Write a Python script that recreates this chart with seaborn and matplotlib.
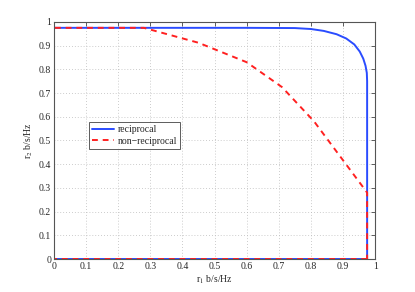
import numpy as np
import pandas as pd
import matplotlib
matplotlib.use("Agg")
import matplotlib.pyplot as plt
import seaborn as sns

# -----------------------------
# DATA
# -----------------------------
recip_r1 = [0.975, 0.0, 0.0, 0.30, 0.60, 0.75, 0.80, 0.84, 0.88, 0.91,
            0.935, 0.952, 0.963, 0.970, 0.974, 0.975, 0.975]
recip_r2 = [0.0, 0.0, 0.975, 0.975, 0.975, 0.974, 0.970, 0.962, 0.948, 0.930,
            0.905, 0.875, 0.845, 0.815, 0.785, 0.75, 0.0]

nonrecip_r1 = [0.975, 0.0, 0.0, 0.28, 0.45, 0.60, 0.71, 0.81, 0.975, 0.975]
nonrecip_r2 = [0.0, 0.0, 0.975, 0.975, 0.912, 0.83, 0.725, 0.58, 0.28, 0.0]

xticks = np.round(np.arange(0, 1.01, 0.1), 1)
yticks = np.round(np.arange(0, 1.01, 0.1), 1)

df_recip = pd.DataFrame({"r1": recip_r1, "r2": recip_r2})
df_non = pd.DataFrame({"r1": nonrecip_r1, "r2": nonrecip_r2})

# -----------------------------
# PLOT
# -----------------------------
sns.set_style("white")
plt.rcParams["font.family"] = ["Liberation Serif", "DejaVu Serif"]
plt.rcParams["mathtext.fontset"] = "stix"

fig = plt.figure(figsize=(4.15, 2.92), dpi=100)
ax = fig.add_axes([0.130, 0.113, 0.774, 0.812])

sns.lineplot(data=df_recip, x="r1", y="r2", sort=False, estimator=None,
             color="#2a4cff", linewidth=1.4, ax=ax, label="reciprocal")
sns.lineplot(data=df_non, x="r1", y="r2", sort=False, estimator=None,
             color="#ff2020", linewidth=1.4, linestyle=(0, (3, 2.5)), ax=ax,
             label="non\u2212reciprocal")

ax.set_xlim(0, 1)
ax.set_ylim(0, 1)
ax.set_xticks(xticks)
ax.set_yticks(yticks)
ax.set_xticklabels([f"{t:g}" for t in xticks])
ax.set_yticklabels([f"{t:g}" for t in yticks])
ax.tick_params(direction="in", length=3, width=0.6, labelsize=7,
               top=True, right=True, color="#444444", pad=2)
ax.grid(True, linestyle=(0, (1, 2.5)), color="#bbbbbb", linewidth=0.6)
for s in ax.spines.values():
    s.set_color("#555555")
    s.set_linewidth(0.8)

ax.set_xlabel("r$_1$ b/s/Hz", fontsize=7, labelpad=2)
ax.set_ylabel("r$_2$ b/s/Hz", fontsize=7, labelpad=3)

leg = ax.legend(loc="upper left", bbox_to_anchor=(0.108, 0.578), fontsize=7,
                frameon=True, fancybox=False, handlelength=2.3,
                borderpad=0.35, labelspacing=0.25, handletextpad=0.3,
                borderaxespad=0)
leg.get_frame().set_edgecolor("#333333")
leg.get_frame().set_linewidth(0.7)

fig.savefig("out.png", dpi=100)
